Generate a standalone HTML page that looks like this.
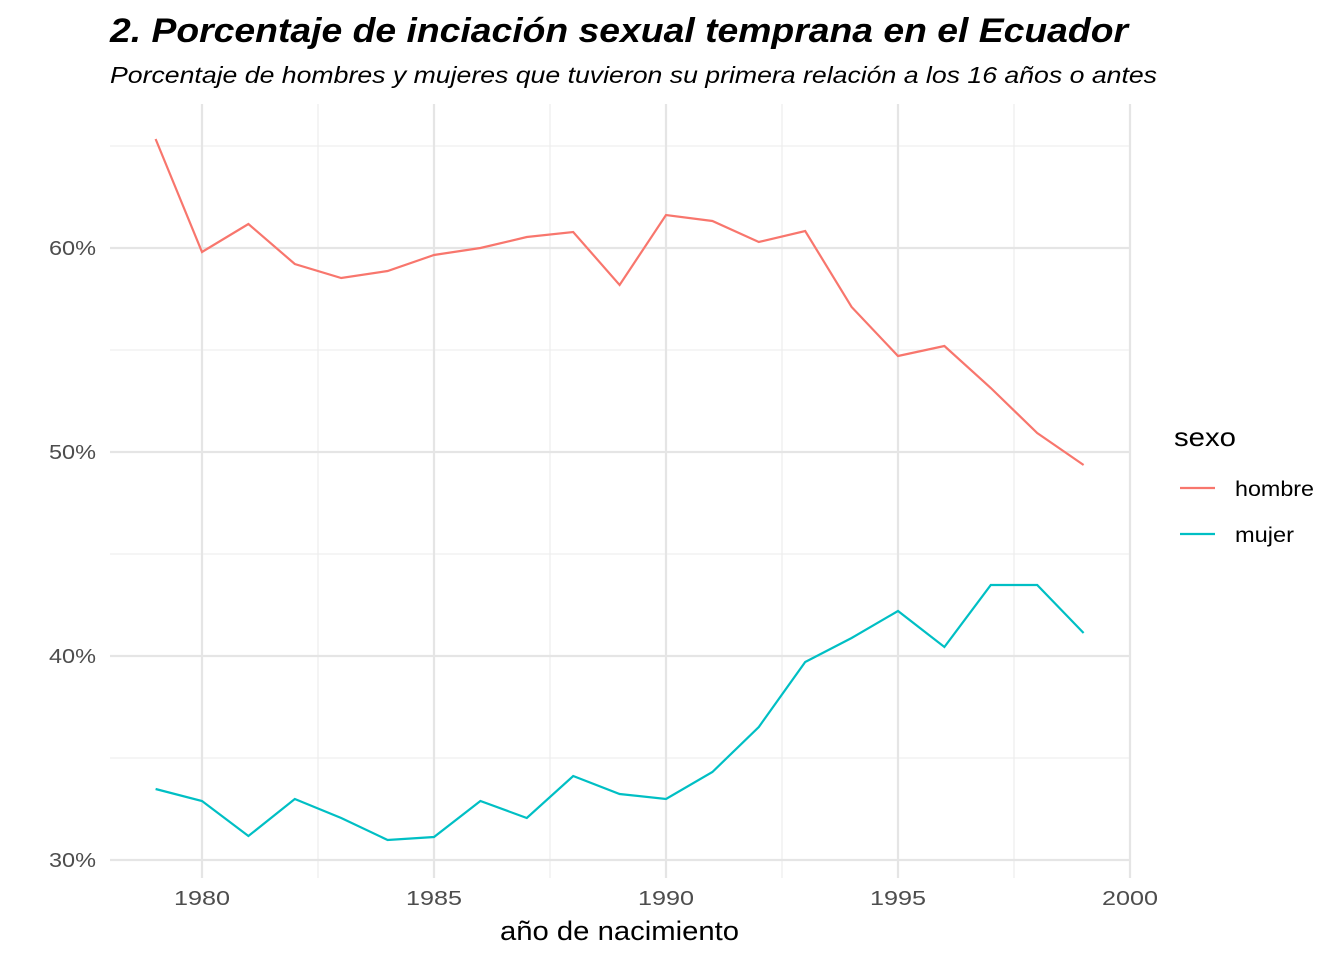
<!DOCTYPE html>
<html><head><meta charset="utf-8"><style>
html,body{margin:0;padding:0;background:#fff;}
svg{display:block;font-family:"Liberation Sans",Arial,sans-serif;}
</style></head><body>
<svg width="1344" height="960" viewBox="0 0 1344 960" xmlns="http://www.w3.org/2000/svg">
<rect width="1344" height="960" fill="#fff"/>
<g stroke="#ebebeb" stroke-width="1.1">
<line x1="110" x2="1130" y1="146" y2="146"/>
<line x1="110" x2="1130" y1="350" y2="350"/>
<line x1="110" x2="1130" y1="554" y2="554"/>
<line x1="110" x2="1130" y1="758" y2="758"/>
<line x1="318" x2="318" y1="104" y2="878"/>
<line x1="550" x2="550" y1="104" y2="878"/>
<line x1="782" x2="782" y1="104" y2="878"/>
<line x1="1014" x2="1014" y1="104" y2="878"/>
</g>
<g stroke="#e5e5e5" stroke-width="2.2">
<line x1="110" x2="1130" y1="248" y2="248"/>
<line x1="110" x2="1130" y1="452" y2="452"/>
<line x1="110" x2="1130" y1="656" y2="656"/>
<line x1="110" x2="1130" y1="860" y2="860"/>
<line x1="202" x2="202" y1="104" y2="878"/>
<line x1="434" x2="434" y1="104" y2="878"/>
<line x1="666" x2="666" y1="104" y2="878"/>
<line x1="898" x2="898" y1="104" y2="878"/>
<line x1="1130" x2="1130" y1="104" y2="878"/>
</g>
<polyline fill="none" stroke="#F8766D" stroke-width="2.2" points="155.6,139 202,252 248.4,224 294.8,264 341.2,278 387.6,271 434,255 480.4,248 526.8,237 573.2,232 619.6,285 666,215 712.4,221 758.8,242 805.2,231 851.6,307 898,356 944.4,346 990.8,388 1037.2,433 1083.6,465"/>
<polyline fill="none" stroke="#00BFC4" stroke-width="2.2" points="155.6,789 202,801 248.4,836 294.8,799 341.2,818 387.6,840 434,837 480.4,801 526.8,818 573.2,776 619.6,794 666,799 712.4,772 758.8,727 805.2,662 851.6,638 898,611 944.4,647 990.8,585 1037.2,585 1083.6,633"/>
<g fill="#4d4d4d" font-size="20">
<text x="49" y="255" textLength="47" lengthAdjust="spacingAndGlyphs">60%</text>
<text x="49" y="459" textLength="47" lengthAdjust="spacingAndGlyphs">50%</text>
<text x="49" y="663" textLength="47" lengthAdjust="spacingAndGlyphs">40%</text>
<text x="49" y="867" textLength="47" lengthAdjust="spacingAndGlyphs">30%</text>
</g>
<g fill="#4d4d4d" font-size="20">
<text x="174" y="905" textLength="56" lengthAdjust="spacingAndGlyphs">1980</text>
<text x="406" y="905" textLength="56" lengthAdjust="spacingAndGlyphs">1985</text>
<text x="638" y="905" textLength="56" lengthAdjust="spacingAndGlyphs">1990</text>
<text x="870" y="905" textLength="56" lengthAdjust="spacingAndGlyphs">1995</text>
<text x="1102" y="905" textLength="56" lengthAdjust="spacingAndGlyphs">2000</text>
</g>
<text x="500" y="940" font-size="27" fill="#000" textLength="239" lengthAdjust="spacingAndGlyphs">año de nacimiento</text>
<text x="110" y="42" font-size="34" font-weight="bold" font-style="italic" fill="#000" textLength="1018" lengthAdjust="spacingAndGlyphs">2. Porcentaje de inciación sexual temprana en el Ecuador</text>
<text x="110" y="83" font-size="23" font-style="italic" fill="#000" textLength="1047" lengthAdjust="spacingAndGlyphs">Porcentaje de hombres y mujeres que tuvieron su primera relación a los 16 años o antes</text>
<text x="1174" y="446" font-size="26" fill="#000" textLength="62" lengthAdjust="spacingAndGlyphs">sexo</text>
<line x1="1180" x2="1215" y1="488" y2="488" stroke="#F8766D" stroke-width="2.2"/>
<line x1="1180" x2="1215" y1="534" y2="534" stroke="#00BFC4" stroke-width="2.2"/>
<text x="1235" y="496" font-size="21" fill="#000" textLength="79" lengthAdjust="spacingAndGlyphs">hombre</text>
<text x="1235" y="542" font-size="21" fill="#000" textLength="59" lengthAdjust="spacingAndGlyphs">mujer</text>
</svg>
</body></html>
